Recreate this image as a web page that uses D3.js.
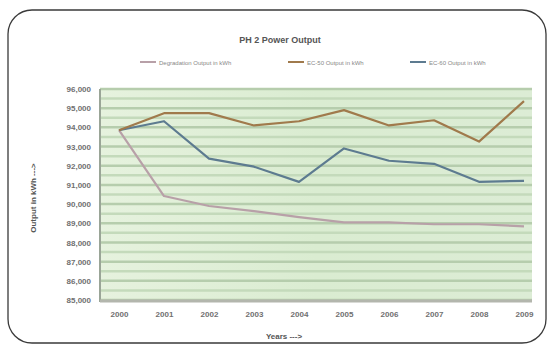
<!DOCTYPE html>
<html>
<head>
<meta charset="utf-8">
<script src="https://cdn.jsdelivr.net/npm/d3@7"></script>
<style>
  body { margin: 0; background: #fff; }
  svg text { font-family: "Liberation Sans", Arial, sans-serif; }
</style>
</head>
<body>
<svg width="552" height="349"></svg>
<script>
// chart data
var years = ["2000", "2001", "2002", "2003", "2004", "2005", "2006", "2007", "2008", "2009"];
var degradation = [93850, 90420, 89900, 89630, 89320, 89050, 89050, 88950, 88950, 88840];
var ec50 = [93850, 94740, 94740, 94100, 94320, 94900, 94100, 94370, 93260, 95370];
var ec60 = [93850, 94320, 92370, 91950, 91160, 92900, 92260, 92100, 91160, 91210];
var yTicks = [85000, 86000, 87000, 88000, 89000, 90000, 91000, 92000, 93000, 94000, 95000, 96000];
var seriesNames = ["Degradation Output in kWh", "EC-50 Output in kWh", "EC-60 Output in kWh"];
var seriesColors = ["#b8a0a8", "#a07a4c", "#5d7b90"];

var svg = d3.select("svg");

// outer rounded border
svg.append("rect")
  .attr("x", 8).attr("y", 10).attr("width", 538).attr("height", 333)
  .attr("rx", 24).attr("ry", 24)
  .attr("fill", "#fff").attr("stroke", "#3a3a3a").attr("stroke-width", 1.3);

var plotLeft = 100, plotRight = 532, plotTop = 89, plotBottom = 300;

var x = d3.scalePoint().domain(years).range([119, 524]);
var y = d3.scaleLinear().domain([85000, 96000]).range([plotBottom, plotTop]);

// plot background with a soft gradient
var defs = svg.append("defs");
var grad = defs.append("linearGradient").attr("id", "bg").attr("x1", 0).attr("x2", 1).attr("y1", 0).attr("y2", 0);
grad.append("stop").attr("offset", "0%").attr("stop-color", "#e6f2de");
grad.append("stop").attr("offset", "50%").attr("stop-color", "#daecd1");
grad.append("stop").attr("offset", "100%").attr("stop-color", "#dcecd5");

svg.append("rect")
  .attr("x", plotLeft).attr("y", plotTop)
  .attr("width", plotRight - plotLeft).attr("height", plotBottom - plotTop)
  .attr("fill", "url(#bg)");

// gridlines, major and in-between ones
var minor = d3.range(85500, 96000, 1000);
svg.append("g").selectAll("line").data(minor).join("line")
  .attr("x1", plotLeft).attr("x2", plotRight)
  .attr("y1", function(d) { return y(d); }).attr("y2", function(d) { return y(d); })
  .attr("stroke", "#c4dabb").attr("stroke-width", 2.5);
svg.append("g").selectAll("line").data(yTicks).join("line")
  .attr("x1", plotLeft).attr("x2", plotRight)
  .attr("y1", function(d) { return y(d); }).attr("y2", function(d) { return y(d); })
  .attr("stroke", "#b6cdad").attr("stroke-width", 2.5);

// plot frame
svg.append("line").attr("x1", plotLeft).attr("x2", plotLeft).attr("y1", plotTop).attr("y2", plotBottom + 2)
  .attr("stroke", "#9aa597").attr("stroke-width", 2);
svg.append("line").attr("x1", plotLeft).attr("x2", plotRight).attr("y1", plotBottom + 1).attr("y2", plotBottom + 1)
  .attr("stroke", "#b3b6ad").attr("stroke-width", 3);

// axes
var yAxis = svg.append("g").attr("transform", "translate(" + (plotLeft - 6) + ",0)")
  .call(d3.axisLeft(y).tickValues(yTicks).tickSize(0).tickFormat(d3.format(",")));
yAxis.select(".domain").remove();
yAxis.selectAll("text").attr("font-size", 8).attr("font-weight", "bold").attr("fill", "#707070");

var xAxis = svg.append("g").attr("transform", "translate(0," + (plotBottom + 8) + ")")
  .call(d3.axisBottom(x).tickSize(0));
xAxis.select(".domain").remove();
xAxis.selectAll("text").attr("font-size", 8).attr("font-weight", "bold").attr("fill", "#707070");

// lines
var line = d3.line()
  .x(function(d, i) { return x(years[i]); })
  .y(function(d) { return y(d); });

var allSeries = [degradation, ec60, ec50];
var order = [0, 2, 1];
allSeries.forEach(function(s, k) {
  svg.append("path")
    .datum(s)
    .attr("d", line)
    .attr("fill", "none")
    .attr("stroke", seriesColors[order[k]])
    .attr("stroke-width", 2.2)
    .attr("stroke-linejoin", "round");
});

// title
svg.append("text").attr("x", 280).attr("y", 43).attr("text-anchor", "middle")
  .attr("font-size", 9).attr("font-weight", "bold").attr("fill", "#555")
  .text("PH 2 Power Output");

// legend
var legendX = [140, 288, 410];
seriesNames.forEach(function(name, i) {
  var g = svg.append("g").attr("transform", "translate(" + legendX[i] + ",62)");
  g.append("line").attr("x1", 0).attr("x2", 16).attr("y1", 0).attr("y2", 0)
    .attr("stroke", seriesColors[i]).attr("stroke-width", 2);
  g.append("text").attr("x", 19).attr("y", 2.5).attr("font-size", 6).attr("fill", "#888")
    .text(name);
});

// axis titles
svg.append("text").attr("transform", "translate(36,198) rotate(-90)")
  .attr("text-anchor", "middle").attr("font-size", 8).attr("font-weight", "bold").attr("fill", "#555")
  .text("Output in kWh --->");
svg.append("text").attr("x", 284).attr("y", 339).attr("text-anchor", "middle")
  .attr("font-size", 8).attr("font-weight", "bold").attr("fill", "#555")
  .text("Years --->");
</script>
</body>
</html>
